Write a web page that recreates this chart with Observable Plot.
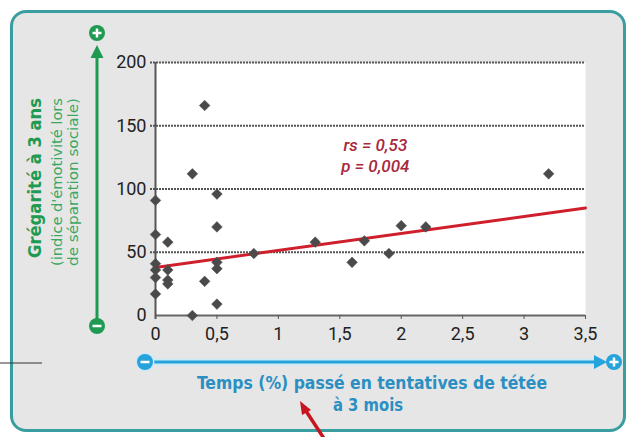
<!DOCTYPE html>
<html><head><meta charset="utf-8">
<script src="https://cdn.jsdelivr.net/npm/d3@7"></script>
<script src="https://cdn.jsdelivr.net/npm/@observablehq/plot@0.6"></script>
<style>
body{margin:0;background:#fff;}
#wrap{position:relative;width:632px;height:437px;overflow:hidden;background:#fff;}
#panel{position:absolute;left:10px;top:10px;width:616px;height:422px;border:3px solid #3a9ea0;border-radius:16px;background:#e6e6e6;box-sizing:border-box;}
#chart{position:absolute;left:0;top:0;}
</style></head>
<body>
<div id="wrap"><div id="panel"></div><div id="chart"></div></div>
<script>
// Data
const timeX = [0, 0, 0, 0, 0, 0, 0.1, 0.1, 0.1, 0.1, 0.3, 0.3, 0.4, 0.4, 0.5, 0.5, 0.5, 0.5, 0.5, 0.8, 1.3, 1.6, 1.7, 1.9, 2.0, 2.2, 3.2];
const gregY = [91, 64, 41, 36, 30, 17, 58, 36, 28, 25, 112, 0, 166, 27, 96, 70, 42, 37, 9, 49, 58, 42, 59, 49, 71, 70, 112];
const fitX = [0, 3.5];
const fitY = [38, 85];
const xTicks = [0, 0.5, 1, 1.5, 2, 2.5, 3, 3.5];
const xTickLabels = ["0", "0,5", "1", "1,5", "2", "2,5", "3", "3,5"];
const yTicks = [0, 50, 100, 150, 200];
const yTickLabels = ["0", "50", "100", "150", "200"];
const statLabels = ["rs = 0,53", "p = 0,004"];
const yTitle = "Grégarité à 3 ans";
const ySubtitle = ["(indice d'émotivité lors", "de séparation sociale)"];
const xTitle = ["Temps (%) passé en tentatives de tétée", "à 3 mois"];

const points = timeX.map((x, i) => ({x, y: gregY[i]}));
const fit = fitX.map((x, i) => ({x, y: fitY[i]}));

const chart = Plot.plot({
  width: 632, height: 437,
  marginLeft: 155, marginRight: 47, marginTop: 62, marginBottom: 122,
  style: {background: "transparent", fontFamily: "Roboto, sans-serif", fontSize: "18px", color: "#222"},
  x: {domain: [0, 3.5]},
  y: {domain: [0, 200]},
  marks: [
    Plot.frame({fill: "white", stroke: null}),
    Plot.ruleY(yTicks.filter(d => d > 0), {stroke: "#555", strokeWidth: 2, strokeDasharray: "2,1", insetLeft: -5}),
    Plot.ruleY([0], {stroke: "#666", strokeWidth: 2}),
    Plot.ruleX([0], {stroke: "#555", strokeWidth: 2, insetBottom: -4}),
    Plot.axisY(yTicks, {tickSize: 0, tickPadding: 9, fontSize: 18, tickFormat: d => yTickLabels[yTicks.indexOf(d)], label: null, fill: "#222"}),
    Plot.axisX(xTicks, {tickSize: 4, tickPadding: 8, fontSize: 18, stroke: "#555", tickFormat: d => xTickLabels[xTicks.indexOf(d)], label: null, fill: "#222"}),
    Plot.line(fit, {x: "x", y: "y", stroke: "#d01f2c", strokeWidth: 3}),
    Plot.dot(points, {x: "x", y: "y", symbol: "diamond2", r: 4.8, fill: "#4a4a4a", stroke: "#4a4a4a", strokeWidth: 0.5}),
    Plot.text(statLabels, {x: 1.79, y: [134, 118], text: d => d, fill: "#a8283c", fontSize: 17, fontStyle: "italic", fontWeight: 500, fontFamily: "Roboto, sans-serif"})
  ]
});
document.getElementById("chart").appendChild(chart);

// Decorations: axis arrows and titles
const svg = d3.select(chart);
const g = svg.append("g");
const green = "#1f9a52", blue = "#27a3dc";
const narrow = "'Liberation Sans Narrow','DejaVu Sans Condensed',Roboto,sans-serif";

// green vertical arrow
g.append("line").attr("x1", 97).attr("x2", 97).attr("y1", 56).attr("y2", 320).attr("stroke", green).attr("stroke-width", 3);
g.append("path").attr("d", "M97,45 L103.5,58 L90.5,58 Z").attr("fill", green);
g.append("circle").attr("cx", 97).attr("cy", 33).attr("r", 8).attr("fill", green);
g.append("path").attr("d", "M92.5,33 H101.5 M97,28.5 V37.5").attr("stroke", "#fff").attr("stroke-width", 2.5);
g.append("circle").attr("cx", 97).attr("cy", 326).attr("r", 8).attr("fill", green);
g.append("path").attr("d", "M92.5,326 H101.5").attr("stroke", "#fff").attr("stroke-width", 2.5);

// blue horizontal arrow
g.append("line").attr("x1", 145).attr("x2", 598).attr("y1", 362).attr("y2", 362).attr("stroke", "#cdeaf6").attr("stroke-width", 7);
g.append("line").attr("x1", 145).attr("x2", 598).attr("y1", 362).attr("y2", 362).attr("stroke", blue).attr("stroke-width", 3);
g.append("path").attr("d", "M594,355 L607,362 L594,369 Z").attr("fill", blue);
g.append("circle").attr("cx", 145).attr("cy", 362).attr("r", 9.5).attr("fill", "#cdeaf6");
g.append("circle").attr("cx", 145).attr("cy", 362).attr("r", 8).attr("fill", blue);
g.append("path").attr("d", "M140.5,362 H149.5").attr("stroke", "#fff").attr("stroke-width", 2.5);
g.append("circle").attr("cx", 614).attr("cy", 362).attr("r", 8).attr("fill", blue);
g.append("path").attr("d", "M609.5,362 H618.5 M614,357.5 V366.5").attr("stroke", "#fff").attr("stroke-width", 2.5);

// leader line at left
g.append("line").attr("x1", 0).attr("x2", 42).attr("y1", 363).attr("y2", 363).attr("stroke", "#333").attr("stroke-width", 1.2);

// red pointer arrow
g.append("line").attr("x1", 325).attr("y1", 440).attr("x2", 306).attr("y2", 411).attr("stroke", "#c8141e").attr("stroke-width", 3.5);
g.append("path").attr("d", "M300,401 L311,410 L302,415 Z").attr("fill", "#c8141e");

// y titles
const yt = g.append("g").attr("font-family", narrow).attr("text-anchor", "middle");
yt.append("text").attr("transform", "translate(35,178) rotate(-90)").attr("dy", "0.35em")
  .attr("font-size", 18).attr("font-weight", "bold").attr("fill", green)
  .attr("textLength", 160).attr("lengthAdjust", "spacingAndGlyphs").text(yTitle);
ySubtitle.forEach((t, i) => {
  yt.append("text").attr("transform", `translate(${57 + i * 16},182) rotate(-90)`).attr("dy", "0.35em")
    .attr("font-size", 14).attr("fill", "#3aa862")
    .attr("textLength", 168).attr("lengthAdjust", "spacingAndGlyphs").text(t);
});

// x titles
const xt = g.append("g").attr("font-family", narrow).attr("text-anchor", "middle").attr("font-weight", "bold").attr("fill", "#2a8fc2");
xt.append("text").attr("x", 372).attr("y", 383).attr("dy", "0.35em").attr("font-size", 18)
  .attr("textLength", 350).attr("lengthAdjust", "spacingAndGlyphs").text(xTitle[0]);
xt.append("text").attr("x", 368).attr("y", 405).attr("dy", "0.35em").attr("font-size", 18)
  .attr("textLength", 70).attr("lengthAdjust", "spacingAndGlyphs").text(xTitle[1]);
</script>
</body></html>
